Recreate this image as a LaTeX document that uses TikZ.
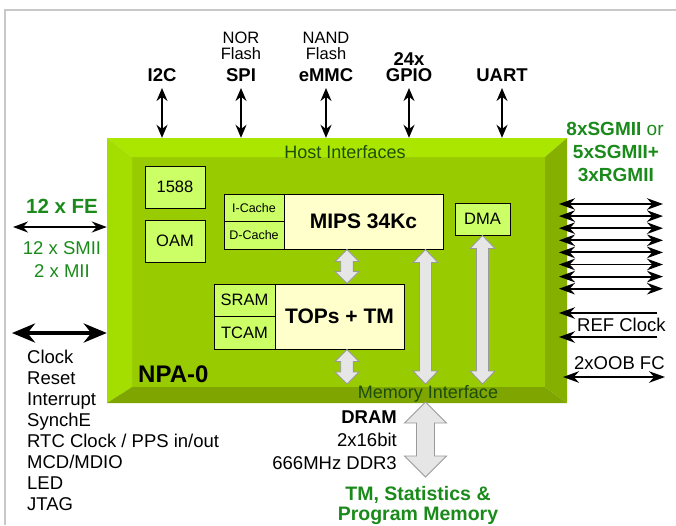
\documentclass[tikz,border=0pt]{standalone}
\usepackage{fontspec}
\setmainfont{Liberation Sans}
\usetikzlibrary{arrows.meta}
\definecolor{framec}{HTML}{C8C8C8}
\definecolor{bevtop}{HTML}{AAE600}
\definecolor{bevleft}{HTML}{A4DE00}
\definecolor{face}{HTML}{99CC00}
\definecolor{bevright}{HTML}{85B000}
\definecolor{bevbot}{HTML}{7FA600}
\definecolor{boxgreen}{HTML}{CCFF66}
\definecolor{boxcream}{HTML}{FFFFCC}
\definecolor{lbl}{HTML}{1A8A1A}
\definecolor{dkgreen}{HTML}{1D4D0B}
\definecolor{agrayfill}{HTML}{E6E6E6}
\definecolor{agrayline}{HTML}{9A9A9A}
\newcommand\fs[1]{\fontsize{#1}{#1}\selectfont}
\newcommand\blockarr[6]{\draw[garrow] (#1,#2) -- ({#1+#5},{#2+#6}) -- ({#1+#4},{#2+#6}) -- ({#1+#4},{#3-#6}) -- ({#1+#5},{#3-#6}) -- (#1,#3) -- ({#1-#5},{#3-#6}) -- ({#1-#4},{#3-#6}) -- ({#1-#4},{#2+#6}) -- ({#1-#5},{#2+#6}) -- cycle;}
\begin{document}
\begin{tikzpicture}[x=1pt,y=-1pt,
  txt/.style={inner sep=0pt, font=\fs{18.5}},
  btxt/.style={inner sep=0pt, font=\fs{18.5}\bfseries},
  gbox/.style={draw=black, line width=0.9pt, fill=boxgreen, inner sep=0pt},
  cbox/.style={draw=black, line width=0.9pt, fill=boxcream, inner sep=0pt},
  garrow/.style={draw=agrayline, fill=agrayfill, line width=0.9pt, line join=miter},
  top arrow/.style={line width=1.7pt, {Stealth[length=13pt,width=11pt]}-{Stealth[length=13pt,width=11pt]}},
  fe arrow/.style={line width=1.8pt, {Stealth[length=15pt,width=11pt]}-{Stealth[length=15pt,width=11pt]}},
  big arrow/.style={line width=4.5pt, {Stealth[length=23pt,width=19pt]}-{Stealth[length=23pt,width=19pt]}},
  sg arrow/.style={line width=1.9pt, {Stealth[length=16pt,width=11.5pt]}-{Stealth[length=16pt,width=11.5pt]}},
  left arrow/.style={line width=1.9pt, -{Stealth[length=16pt,width=11.5pt]}}
]
\useasboundingbox (0,0) rectangle (676,525);
\draw[framec, line width=1.8pt] (5,525) -- (5,10) -- (676,10);

% chip
\node[inner sep=0pt, minimum width=460pt, minimum height=265pt] (chip) at (337,270.5) {};
\fill[face] (132,157) rectangle (545,387);
\fill[bevtop] (107,138) -- (567,138) -- (545,157) -- (132,157) -- cycle;
\fill[bevleft] (107,138) -- (132,157) -- (132,387) -- (107,403) -- cycle;
\fill[bevright] (567,138) -- (567,403) -- (545,387) -- (545,157) -- cycle;
\fill[bevbot] (107,403) -- (567,403) -- (545,387) -- (132,387) -- cycle;

\node[txt, font=\fs{18}, text=dkgreen, anchor=base] (host) at (345,158) {Host Interfaces};
\node[txt, font=\fs{18}, text=dkgreen, anchor=base] (memif) at (428,398) {Memory Interface};
\node[inner sep=0pt, font=\fs{24}\bfseries, anchor=base west] (npa) at (138,382) {NPA-0};

% inner blocks
\node[gbox, minimum width=60pt, minimum height=42pt, font=\fs{16.5}] (b1588) at (175,187) {1588};
\node[gbox, minimum width=60pt, minimum height=42pt, font=\fs{16.5}] (oam) at (175,241) {OAM};
\node[gbox, minimum width=60pt, minimum height=27.5pt, font=\fs{12.5}] (icache) at (254,207.75) {I-Cache};
\node[gbox, minimum width=60pt, minimum height=27.5pt, font=\fs{12.5}] (dcache) at (254,235.25) {D-Cache};
\node[cbox, minimum width=159pt, minimum height=55pt, font=\fs{21}\bfseries] (mips) at (363.5,221.5) {MIPS 34Kc};
\node[gbox, minimum width=55pt, minimum height=32pt, font=\fs{16.5}] (dma) at (482.5,219) {DMA};
\node[gbox, minimum width=61pt, minimum height=32pt, font=\fs{16.5}] (sram) at (244.5,300) {SRAM};
\node[gbox, minimum width=61pt, minimum height=33pt, font=\fs{16.5}] (tcam) at (244.5,332.5) {TCAM};
\node[cbox, minimum width=129pt, minimum height=65pt, font=\fs{21}\bfseries] (tops) at (339.5,316.5) {TOPs + TM};

% grey block arrows
\blockarr{347}{249.5}{283.5}{6.3}{12}{12}
\blockarr{347}{349.5}{384}{6.3}{12}{12}
\blockarr{425.5}{249.5}{384}{6}{12.5}{13}
\blockarr{482.5}{235.5}{384}{6}{12.5}{13}
\blockarr{425.5}{402}{477}{9}{21}{21}

% top interfaces
\node[txt, font=\fs{16.5}, anchor=base] (nor) at (241,43.3) {NOR};
\node[txt, font=\fs{16.5}, anchor=base] (norflash) at (241,59.3) {Flash};
\node[txt, font=\fs{16.5}, anchor=base] (nand) at (326,43.3) {NAND};
\node[txt, font=\fs{16.5}, anchor=base] (nandflash) at (326,59.3) {Flash};
\node[btxt, anchor=base] (g24) at (409,65) {24x};
\node[btxt, anchor=base] (i2c) at (162,81.7) {I2C};
\node[btxt, anchor=base] (spi) at (241,81.7) {SPI};
\node[btxt, anchor=base] (emmc) at (326,81.7) {eMMC};
\node[btxt, anchor=base] (gpio) at (409,81.7) {GPIO};
\node[btxt, anchor=base] (uart) at (502,81.7) {UART};
\foreach \n/\x in {i2c/162, spi/241, emmc/326, gpio/409, uart/502} {
  \coordinate (\n top) at (\x,88);
  \draw[top arrow] (\n top) -- (\n top |- chip.north);
}

% left side
\node[inner sep=0pt, font=\fs{20.5}\bfseries, text=lbl, anchor=base] (fe) at (62,213) {12 x FE};
\coordinate (feL) at (13,227);
\draw[fe arrow] (feL) -- (feL -| chip.west);
\node[txt, text=lbl, anchor=base] (smii) at (62,254) {12 x SMII};
\node[txt, text=lbl, anchor=base] (mii) at (62,277) {2 x MII};
\coordinate (ctlL) at (12,333);
\draw[big arrow] (ctlL) -- (ctlL -| chip.west);
\foreach \t [count=\i from 0] in {Clock, Reset, Interrupt, SynchE, RTC Clock / PPS in/out, MCD/MDIO, LED, JTAG}
  \node[txt, anchor=base west] (ctl\i) at (27,{363.3+20.96*\i}) {\t};

% right side
\node[inner sep=0pt, font=\fs{19}\bfseries, text=lbl, anchor=base] (sg1) at (615,135) {8xSGMII {\mdseries or}};
\node[inner sep=0pt, font=\fs{19}\bfseries, text=lbl, anchor=base] (sg2) at (616,158.3) {5xSGMII+};
\node[inner sep=0pt, font=\fs{19}\bfseries, text=lbl, anchor=base] (sg3) at (615.8,181.7) {3xRGMII};
\foreach \i in {0,...,7} {
  \coordinate (sgL\i) at (559,{204+12.1*\i});
  \coordinate (sgR\i) at (663,{204+12.1*\i});
  \draw[sg arrow] (sgL\i) -- (sgR\i);
}
\coordinate (ref1) at (657,313);
\coordinate (ref2) at (657,337);
\draw[left arrow] (ref1) -- (ref1 -| sgL0);
\draw[left arrow] (ref2) -- (ref2 -| sgL0);
\node[txt, anchor=base west] (ref) at (577,331.7) {REF Clock};
\node[txt, anchor=base west] (oob) at (574,369.3) {2xOOB FC};
\coordinate (oobL) at (563,377);
\coordinate (oobR) at (665,377);
\draw[sg arrow] (oobL) -- (oobR);

% bottom
\node[btxt, anchor=base east] (dram) at (397,423.3) {DRAM};
\node[txt, anchor=base east] (dw) at (397,446) {2x16bit};
\node[txt, anchor=base east] (dsp) at (397,469) {666MHz DDR3};
\node[inner sep=0pt, font=\fs{19.5}\bfseries, text=lbl, anchor=base] (tm1) at (418,500) {TM, Statistics \&};
\node[inner sep=0pt, font=\fs{19.5}\bfseries, text=lbl, anchor=base] (tm2) at (418,520) {Program Memory};
\end{tikzpicture}
\end{document}
